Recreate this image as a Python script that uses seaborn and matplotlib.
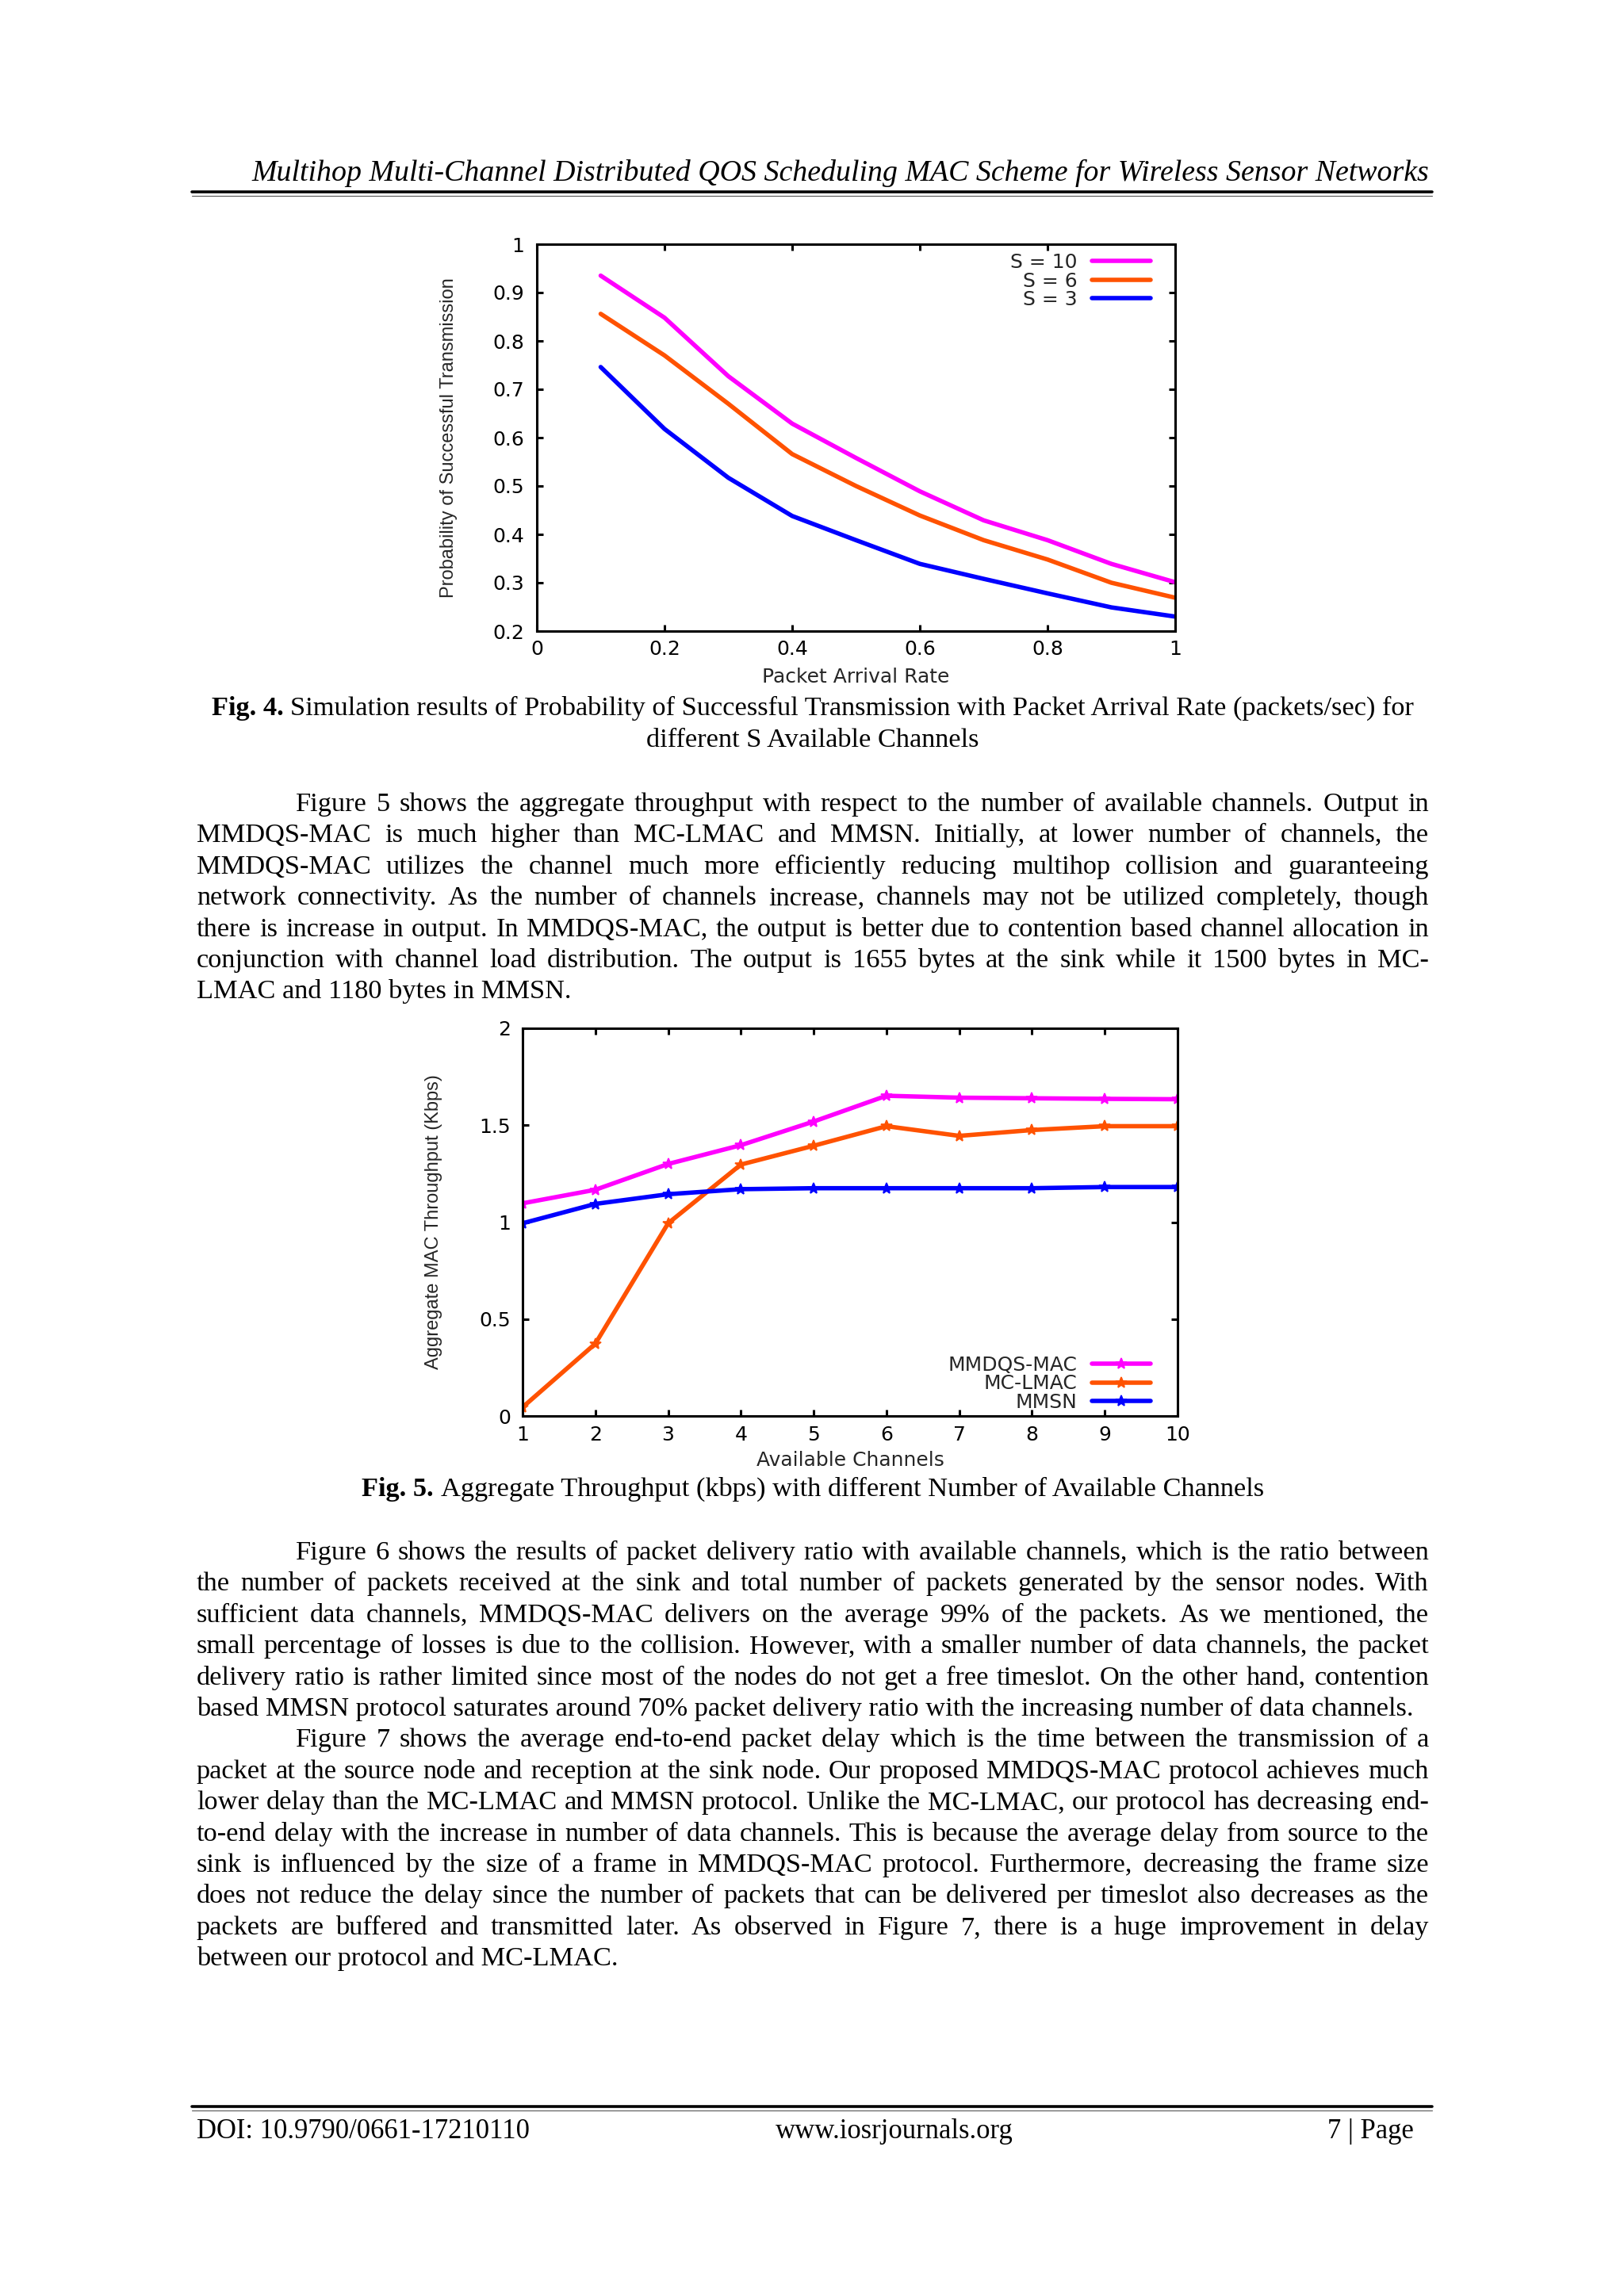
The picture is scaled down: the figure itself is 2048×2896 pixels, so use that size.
import numpy as np
import pandas as pd
import matplotlib
matplotlib.use("Agg")
import matplotlib.pyplot as plt
from matplotlib.lines import Line2D
import seaborn as sns

# ---------------- data ----------------
arrival_rate = [0.1, 0.2, 0.3, 0.4, 0.5, 0.6, 0.7, 0.8, 0.9, 1.0]
prob_s10 = [0.935, 0.848, 0.727, 0.629, 0.558, 0.489, 0.429, 0.388, 0.339, 0.301]
prob_s6 = [0.856, 0.770, 0.670, 0.566, 0.500, 0.439, 0.388, 0.348, 0.300, 0.269]
prob_s3 = [0.746, 0.618, 0.517, 0.438, 0.388, 0.339, 0.308, 0.278, 0.249, 0.230]
fig4_labels = ["S = 10", "S = 6", "S = 3"]
fig4_xticks = [0, 0.2, 0.4, 0.6, 0.8, 1.0]
fig4_xticklabels = ["0", "0.2", "0.4", "0.6", "0.8", "1"]
fig4_yticks = [0.2, 0.3, 0.4, 0.5, 0.6, 0.7, 0.8, 0.9, 1.0]
fig4_yticklabels = ["0.2", "0.3", "0.4", "0.5", "0.6", "0.7", "0.8", "0.9", "1"]

channels = [1, 2, 3, 4, 5, 6, 7, 8, 9, 10]
thr_mmdqs = [1.097, 1.167, 1.300, 1.397, 1.519, 1.652, 1.642, 1.639, 1.636, 1.634]
thr_mclmac = [0.045, 0.373, 0.994, 1.297, 1.394, 1.495, 1.445, 1.475, 1.495, 1.495]
thr_mmsn = [0.994, 1.094, 1.144, 1.170, 1.175, 1.175, 1.175, 1.175, 1.181, 1.181]
fig5_labels = ["MMDQS-MAC", "MC-LMAC", "MMSN"]
fig5_xticks = channels
fig5_xticklabels = ["1", "2", "3", "4", "5", "6", "7", "8", "9", "10"]
fig5_yticks = [0, 0.5, 1.0, 1.5, 2.0]
fig5_yticklabels = ["0", "0.5", "1", "1.5", "2"]

series_colors = ["#ff00ff", "#ff5200", "#0000ff"]

header_text = "Multihop Multi-Channel Distributed QOS Scheduling MAC Scheme for Wireless Sensor Networks"
fig4_caption_bold = "Fig. 4."
fig4_caption_rest = " Simulation results of Probability of Successful Transmission with Packet Arrival Rate (packets/sec) for"
fig4_caption_line2 = "different S Available Channels"
fig5_caption_bold = "Fig. 5."
fig5_caption_rest = " Aggregate Throughput (kbps) with different Number of Available Channels"

para1 = [
    "Figure 5 shows the aggregate throughput with respect to the number of available channels. Output in",
    "MMDQS-MAC is much higher than MC-LMAC and MMSN. Initially, at lower number of channels, the",
    "MMDQS-MAC utilizes the channel much more efficiently reducing multihop collision and guaranteeing",
    "network connectivity. As the number of channels increase, channels may not be utilized completely, though",
    "there is increase in output. In MMDQS-MAC, the output is better due to contention based channel allocation in",
    "conjunction with channel load distribution. The output is 1655 bytes at the sink while it 1500 bytes in MC-",
    "LMAC and 1180 bytes in MMSN.",
]
para1_indent = [True, False, False, False, False, False, False]
para1_last = [False, False, False, False, False, False, True]

para2 = [
    "Figure 6 shows the results of packet delivery ratio with available channels, which is the ratio between",
    "the number of packets received at the sink and total number of packets generated by the sensor nodes. With",
    "sufficient data channels, MMDQS-MAC delivers on the average 99% of the packets. As we mentioned, the",
    "small percentage of losses is due to the collision. However, with a smaller number of data channels, the packet",
    "delivery ratio is rather limited since most of the nodes do not get a free timeslot. On the other hand, contention",
    "based MMSN protocol saturates around 70% packet delivery ratio with the increasing number of data channels.",
    "Figure 7 shows the average end-to-end packet delay which is the time between the transmission of a",
    "packet at the source node and reception at the sink node. Our proposed MMDQS-MAC protocol achieves much",
    "lower delay than the MC-LMAC and MMSN protocol. Unlike the MC-LMAC, our protocol has decreasing end-",
    "to-end delay with the increase in number of data channels. This is because the average delay from source to the",
    "sink is influenced by the size of a frame in MMDQS-MAC protocol. Furthermore, decreasing the frame size",
    "does not reduce the delay since the number of packets that can be delivered per timeslot also decreases as the",
    "packets are buffered and transmitted later. As observed in Figure 7, there is a huge improvement in delay",
    "between our protocol and MC-LMAC.",
]
para2_indent = [True, False, False, False, False, False, True, False, False, False, False, False, False, False]
para2_last = [False, False, False, False, False, True, False, False, False, False, False, False, False, True]

footer_left = "DOI: 10.9790/0661-17210110"
footer_mid = "www.iosrjournals.org"
footer_right = "7 | Page"

# ---------------- figure ----------------
sns.set_style("ticks", {"axes.linewidth": 1.1, "xtick.direction": "in", "ytick.direction": "in",
                        "axes.edgecolor": "black"})
plt.rcParams['font.family'] = ['DejaVu Sans']

W, H = 2048, 2896
DPI = 200
fig = plt.figure(figsize=(W / DPI, H / DPI), dpi=DPI)
fig.patch.set_facecolor("white")


def fx(px):
    return px / W


def fy(py):
    return 1 - py / H


SANS_SIZE = 9.0
YLAB_FONT = ["Liberation Sans", "DejaVu Sans"]
YLAB_SIZE = 8.5


def style_axes(ax, xlim, ylim, xt, xtl, yt, ytl, xpad, ypad):
    ax.set_xlim(*xlim)
    ax.set_ylim(*ylim)
    ax.set_xticks(xt, labels=xtl)
    ax.set_yticks(yt, labels=ytl)
    ax.tick_params(axis="both", direction="in", length=2.9, width=1.1, top=True, right=True,
                   labelsize=SANS_SIZE, colors="black")
    ax.tick_params(axis="x", pad=xpad)
    ax.tick_params(axis="y", pad=ypad)
    for sp in ax.spines.values():
        sp.set_linewidth(1.1)
        sp.set_color("black")
        sp.set_visible(True)
    ax.grid(False)
    ax.set_facecolor("white")


LEG_KW = dict(frameon=False, markerfirst=False, fontsize=SANS_SIZE, handlelength=2.95,
              handletextpad=0.75, labelspacing=-0.02, borderpad=0, borderaxespad=0)

# ---- Fig. 4 ----
ax1 = fig.add_axes([fx(677), fy(796), (1482 - 677) / W, (796 - 308) / H])
for vals, lab, col in zip([prob_s10, prob_s6, prob_s3], fig4_labels, series_colors):
    sns.lineplot(x=arrival_rate, y=vals, color=col, linewidth=2.0, label=lab, ax=ax1)
style_axes(ax1, (0, 1), (0.2, 1.0), fig4_xticks, fig4_xticklabels, fig4_yticks, fig4_yticklabels, 4.0, 5.6)
ax1.set_xlabel("Packet Arrival Rate", fontsize=SANS_SIZE)
ax1.set_ylabel("Probability of Successful Transmission", fontsize=YLAB_SIZE, family=YLAB_FONT)
ax1.xaxis.set_label_coords(0.5, -(842 - 796) / 488)
ax1.yaxis.set_label_coords((577 - 677) / 805, 0.5)
ax1.legend(loc="upper right", bbox_to_anchor=((1451 - 677) / 805, 1 - (319 - 308) / 488), **LEG_KW)

# ---- Fig. 5 ----
ax2 = fig.add_axes([fx(659), fy(1786), (1485 - 659) / W, (1786 - 1297) / H])
for vals, lab, col in zip([thr_mmdqs, thr_mclmac, thr_mmsn], fig5_labels, series_colors):
    sns.lineplot(x=channels, y=vals, color=col, linewidth=2.0, label=lab, marker="*",
                 markersize=5, markeredgewidth=0.6, markeredgecolor=col, ax=ax2)
style_axes(ax2, (1, 10), (0, 2), fig5_xticks, fig5_xticklabels, fig5_yticks, fig5_yticklabels, 4.4, 5.4)
ax2.set_xlabel("Available Channels", fontsize=SANS_SIZE)
ax2.set_ylabel("Aggregate MAC Throughput (Kbps)", fontsize=YLAB_SIZE, family=YLAB_FONT)
ax2.xaxis.set_label_coords(0.5, -(1830 - 1786) / 489)
ax2.yaxis.set_label_coords((558 - 659) / 826, 0.5)
ax2.legend(loc="upper right", bbox_to_anchor=((1451 - 659) / 826, 1 - (1710 - 1297) / 489), **LEG_KW)

# ---------------- page text ----------------
SERIF = ["Liberation Serif", "DejaVu Serif"]
renderer = fig.canvas.get_renderer()


def make_text(s, size, weight="normal", style="normal", **kw):
    return fig.text(0, 0, s, fontsize=size, family=SERIF, fontweight=weight, fontstyle=style,
                    va="baseline", ha="left", color="black", **kw)


def width_of(s, size, weight="normal", style="normal"):
    t = make_text(s, size, weight, style)
    w = t.get_window_extent(renderer=renderer).width
    t.remove()
    return w


def space_width(size, weight="normal"):
    return width_of("a a", size, weight) - width_of("aa", size, weight)


# fit body size from the Fig. 4 caption width
w10 = width_of(fig4_caption_bold, 10, "bold") + space_width(10) + width_of(fig4_caption_rest.strip(), 10)
BODY = 10 * (1783 - 264) / w10
HEAD = 10 * (1802 - 314) / width_of(header_text, 10, style="italic")
FOOT = 10 * (667 - 248) / width_of(footer_left, 10)

LEFT, RIGHT, INDENT = 248, 1802, 373
CENTER = (LEFT + RIGHT) / 2


def place(s, x, y, size, weight="normal", style="normal"):
    t = make_text(s, size, weight, style)
    t.set_position((fx(x), fy(y)))
    return t


def justify(line, x0, x1, y, size, last):
    if last:
        place(line, x0, y, size)
        return
    words = line.split(" ")
    texts = [make_text(w, size) for w in words]
    widths = [t.get_window_extent(renderer=renderer).width for t in texts]
    gap = (x1 - x0 - sum(widths)) / max(len(words) - 1, 1)
    x = x0
    for t, w in zip(texts, widths):
        t.set_position((fx(x), fy(y)))
        x += w + gap


def caption(bold, rest, y, size):
    rest = rest.strip()
    wb = width_of(bold, size, "bold")
    ws = space_width(size)
    wr = width_of(rest, size)
    x0 = CENTER - (wb + ws + wr) / 2
    place(bold, x0, y, size, "bold")
    place(rest, x0 + wb + ws, y, size)


# header
ht = make_text(header_text, HEAD, style="italic")
ht.set_ha("right")
ht.set_position((fx(RIGHT), fy(228)))
fig.add_artist(Line2D([fx(242), fx(1806)], [fy(242), fy(242)], color="black", linewidth=1.3))
fig.add_artist(Line2D([fx(242), fx(1806)], [fy(247), fy(247)], color="#555555", linewidth=0.4))

# captions
caption(fig4_caption_bold, fig4_caption_rest, 902, BODY)
t = make_text(fig4_caption_line2, BODY)
t.set_ha("center")
t.set_position((fx(CENTER), fy(942)))
caption(fig5_caption_bold, fig5_caption_rest, 1887, BODY)

# paragraphs
LS = 39.4
for i, (line, ind, last) in enumerate(zip(para1, para1_indent, para1_last)):
    justify(line, INDENT if ind else LEFT, RIGHT, 1023 + i * LS, BODY, last)
for i, (line, ind, last) in enumerate(zip(para2, para2_indent, para2_last)):
    justify(line, INDENT if ind else LEFT, RIGHT, 1967 + i * LS, BODY, last)

# footer
fig.add_artist(Line2D([fx(242), fx(1806)], [fy(2657), fy(2657)], color="black", linewidth=1.3))
fig.add_artist(Line2D([fx(242), fx(1806)], [fy(2662), fy(2662)], color="#555555", linewidth=0.4))
place(footer_left, LEFT, 2697, FOOT)
t = make_text(footer_mid, FOOT)
t.set_ha("center")
t.set_position((fx(1128), fy(2697)))
t = make_text(footer_right, FOOT)
t.set_ha("right")
t.set_position((fx(1783), fy(2697)))

fig.savefig("out.png", dpi=DPI, facecolor="white")
